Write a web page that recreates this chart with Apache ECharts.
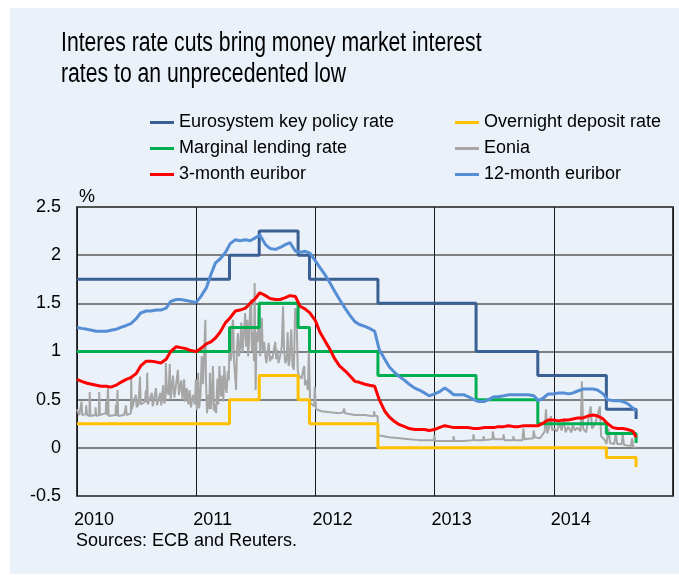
<!DOCTYPE html>
<html>
<head>
<meta charset="utf-8">
<script src="https://cdn.jsdelivr.net/npm/echarts@6/dist/echarts.min.js"></script>
<style>
  html, body { margin: 0; padding: 0; background: #fff; }
  #chart { width: 679px; height: 575px; }
</style>
</head>
<body>
<div id="chart"></div>
<script>
// policy rate change dates (value holds until next date)
var policyDates = ['2010-01-01', '2011-04-13', '2011-07-13', '2011-11-09', '2011-12-14',
  '2012-07-11', '2013-05-08', '2013-11-13', '2014-06-11', '2014-09-10'];
var keyRate      = [1.75, 2.00, 2.25, 2.00, 1.75, 1.50, 1.00, 0.75, 0.40, 0.30];
var marginalRate = [1.00, 1.25, 1.50, 1.25, 1.00, 0.75, 0.50, 0.25, 0.15, 0.05];
var depositRate  = [0.25, 0.50, 0.75, 0.50, 0.25, 0.00, 0.00, 0.00, -0.10, -0.20];

// euribor readings on the 1st and 15th of each month (last one 2014-09-10)
var euribor12m = [
  1.25, 1.24, 1.23, 1.22, 1.21, 1.21, 1.21, 1.22, 1.23, 1.25, 1.27, 1.29, 1.34, 1.40, 1.42, 1.42, 1.43, 1.43, 1.45, 1.52, 1.54, 1.54, 1.53, 1.52,
  1.51, 1.57, 1.66, 1.80, 1.92, 1.96, 2.03, 2.12, 2.16, 2.15, 2.16, 2.15, 2.18, 2.21, 2.11, 2.07, 2.06, 2.08, 2.11, 2.13, 2.04, 2.03, 2.04, 2.02,
  1.94, 1.87, 1.79, 1.71, 1.62, 1.54, 1.45, 1.38, 1.31, 1.28, 1.26, 1.24, 1.21, 1.02, 0.92, 0.84, 0.78, 0.74, 0.70, 0.66, 0.62, 0.60, 0.57, 0.54,
  0.56, 0.58, 0.62, 0.59, 0.55, 0.55, 0.55, 0.53, 0.50, 0.48, 0.48, 0.50, 0.53, 0.53, 0.54, 0.55, 0.55, 0.55, 0.55, 0.55, 0.54, 0.49, 0.52, 0.56,
  0.56, 0.57, 0.57, 0.56, 0.57, 0.59, 0.61, 0.61, 0.61, 0.60, 0.56, 0.50, 0.49, 0.49, 0.48, 0.46, 0.41, 0.38
];
var euribor3m = [
  0.71, 0.69, 0.67, 0.66, 0.65, 0.64, 0.64, 0.63, 0.65, 0.68, 0.71, 0.73, 0.77, 0.85, 0.90, 0.90, 0.89, 0.88, 0.92, 1.00, 1.05, 1.04, 1.03, 1.01,
  1.00, 1.03, 1.08, 1.10, 1.14, 1.20, 1.30, 1.35, 1.42, 1.43, 1.45, 1.50, 1.55, 1.61, 1.58, 1.55, 1.54, 1.54, 1.56, 1.58, 1.57, 1.47, 1.44, 1.40,
  1.32, 1.20, 1.10, 1.02, 0.92, 0.85, 0.80, 0.75, 0.69, 0.68, 0.66, 0.65, 0.64, 0.50, 0.38, 0.32, 0.27, 0.24, 0.22, 0.20, 0.19, 0.19, 0.19, 0.18,
  0.19, 0.21, 0.23, 0.22, 0.21, 0.21, 0.21, 0.21, 0.20, 0.20, 0.21, 0.21, 0.21, 0.22, 0.22, 0.23, 0.22, 0.22, 0.23, 0.23, 0.23, 0.23, 0.26, 0.29,
  0.29, 0.28, 0.29, 0.29, 0.30, 0.31, 0.31, 0.33, 0.34, 0.33, 0.30, 0.25, 0.21, 0.20, 0.20, 0.19, 0.17, 0.11
];

// eonia, daily-ish readings incl. the spikes
var eonia = [
  ['2010-01-01', 0.40], ['2010-01-08', 0.34], ['2010-01-14', 0.33], ['2010-01-15', 0.48], ['2010-01-17', 0.34],
  ['2010-01-28', 0.35], ['2010-01-29', 0.44], ['2010-02-01', 0.34],
  ['2010-02-04', 0.33], ['2010-02-08', 0.33], ['2010-02-09', 0.58], ['2010-02-11', 0.33], ['2010-02-26', 0.34], ['2010-02-27', 0.42], ['2010-03-01', 0.33],
  ['2010-03-06', 0.33], ['2010-03-09', 0.34], ['2010-03-10', 0.58], ['2010-03-12', 0.34], ['2010-03-30', 0.36], ['2010-03-31', 0.48],
  ['2010-04-02', 0.34], ['2010-04-05', 0.35], ['2010-04-06', 0.62], ['2010-04-08', 0.33], ['2010-04-29', 0.34], ['2010-04-30', 0.45],
  ['2010-05-02', 0.33], ['2010-05-04', 0.34], ['2010-05-05', 0.60], ['2010-05-07', 0.33], ['2010-05-25', 0.34], ['2010-05-31', 0.44],
  ['2010-06-02', 0.34], ['2010-06-08', 0.35], ['2010-06-15', 0.36], ['2010-06-16', 0.74], ['2010-06-18', 0.40], ['2010-06-30', 0.55],
  ['2010-07-03', 0.42], ['2010-07-08', 0.45], ['2010-07-12', 0.45], ['2010-07-13', 0.74], ['2010-07-15', 0.45], ['2010-07-28', 0.48], ['2010-07-31', 0.60],
  ['2010-08-02', 0.47], ['2010-08-04', 0.78], ['2010-08-06', 0.45], ['2010-08-18', 0.57], ['2010-08-21', 0.43], ['2010-08-25', 0.43], ['2010-08-31', 0.62],
  ['2010-09-03', 0.44], ['2010-09-08', 0.44], ['2010-09-13', 0.57], ['2010-09-16', 0.44], ['2010-09-22', 0.65], ['2010-09-25', 0.46], ['2010-09-29', 0.50], ['2010-09-30', 0.88],
  ['2010-10-03', 0.60], ['2010-10-08', 0.55], ['2010-10-12', 0.87], ['2010-10-15', 0.50], ['2010-10-22', 0.75], ['2010-10-26', 0.52], ['2010-10-30', 0.62],
  ['2010-11-06', 0.81], ['2010-11-09', 0.55], ['2010-11-16', 0.70], ['2010-11-20', 0.50], ['2010-11-24', 0.52], ['2010-11-25', 0.71], ['2010-11-28', 0.48],
  ['2010-12-03', 0.62], ['2010-12-08', 0.45], ['2010-12-12', 0.60], ['2010-12-16', 0.42], ['2010-12-22', 0.55], ['2010-12-28', 0.45], ['2010-12-31', 0.71],
  ['2011-01-03', 0.39], ['2011-01-07', 0.78], ['2011-01-10', 0.41], ['2011-01-14', 0.55], ['2011-01-18', 0.95], ['2011-01-22', 0.66],
  ['2011-01-26', 1.05], ['2011-01-29', 1.33], ['2011-01-31', 0.70],
  ['2011-02-03', 0.36], ['2011-02-07', 0.55], ['2011-02-10', 0.40], ['2011-02-12', 0.78], ['2011-02-16', 0.40], ['2011-02-19', 0.60],
  ['2011-02-21', 0.85], ['2011-02-25', 0.38],
  ['2011-03-01', 0.45], ['2011-03-03', 0.36], ['2011-03-07', 0.72], ['2011-03-10', 0.45], ['2011-03-13', 0.85], ['2011-03-18', 0.53],
  ['2011-03-22', 0.75], ['2011-03-25', 0.48], ['2011-03-28', 0.85],
  ['2011-04-01', 0.62], ['2011-04-04', 0.57], ['2011-04-08', 0.80], ['2011-04-11', 0.70], ['2011-04-13', 1.23], ['2011-04-16', 0.90],
  ['2011-04-19', 0.95], ['2011-04-21', 1.25], ['2011-04-24', 1.33], ['2011-04-27', 0.90],
  ['2011-05-03', 0.60], ['2011-05-06', 1.05], ['2011-05-09', 1.19], ['2011-05-12', 0.95], ['2011-05-16', 1.05], ['2011-05-19', 1.30],
  ['2011-05-23', 0.99], ['2011-05-27', 1.20], ['2011-05-31', 1.40],
  ['2011-06-03', 1.05], ['2011-06-07', 1.33], ['2011-06-09', 0.95], ['2011-06-12', 1.10], ['2011-06-15', 1.45], ['2011-06-18', 1.54],
  ['2011-06-21', 1.00], ['2011-06-24', 1.20], ['2011-06-27', 0.90], ['2011-06-29', 1.71],
  ['2011-07-02', 0.60], ['2011-07-05', 1.20], ['2011-07-08', 1.10], ['2011-07-11', 1.45], ['2011-07-13', 1.33], ['2011-07-16', 0.95],
  ['2011-07-18', 1.15], ['2011-07-21', 1.35], ['2011-07-24', 0.99], ['2011-07-28', 1.10],
  ['2011-08-01', 0.95], ['2011-08-04', 0.88], ['2011-08-08', 1.00], ['2011-08-11', 1.09], ['2011-08-15', 0.90], ['2011-08-19', 0.95],
  ['2011-08-22', 0.92], ['2011-08-26', 1.00], ['2011-08-31', 1.10],
  ['2011-09-03', 0.92], ['2011-09-06', 1.02], ['2011-09-10', 0.88], ['2011-09-15', 0.95], ['2011-09-20', 1.05], ['2011-09-24', 1.47], ['2011-09-27', 1.00],
  ['2011-10-01', 0.88], ['2011-10-05', 0.92], ['2011-10-08', 1.20], ['2011-10-11', 0.85], ['2011-10-14', 0.90], ['2011-10-19', 1.23],
  ['2011-10-23', 0.85], ['2011-10-27', 0.81], ['2011-10-31', 1.45],
  ['2011-11-04', 1.42], ['2011-11-08', 0.80], ['2011-11-11', 0.75], ['2011-11-14', 0.74], ['2011-11-20', 0.72], ['2011-11-24', 0.80],
  ['2011-11-28', 0.85], ['2011-11-30', 0.65],
  ['2011-12-05', 0.70], ['2011-12-09', 0.60], ['2011-12-12', 1.00], ['2011-12-16', 0.47], ['2011-12-22', 0.45], ['2011-12-28', 0.43], ['2011-12-30', 0.63],
  ['2012-01-03', 0.40], ['2012-01-20', 0.38], ['2012-02-15', 0.37], ['2012-03-15', 0.36], ['2012-03-27', 0.37],
  ['2012-03-29', 0.41], ['2012-04-01', 0.36], ['2012-05-01', 0.34], ['2012-06-01', 0.34], ['2012-06-20', 0.33],
  ['2012-06-28', 0.33], ['2012-06-29', 0.38], ['2012-07-02', 0.33], ['2012-07-10', 0.33], ['2012-07-11', 0.13],
  ['2012-08-15', 0.11], ['2012-09-15', 0.10], ['2012-10-15', 0.09], ['2012-11-15', 0.08], ['2012-12-15', 0.08],
  ['2012-12-30', 0.08], ['2012-12-31', 0.13],
  ['2013-01-03', 0.07], ['2013-02-10', 0.07], ['2013-02-27', 0.07], ['2013-02-28', 0.12], ['2013-03-03', 0.07],
  ['2013-04-01', 0.07], ['2013-04-29', 0.08], ['2013-04-30', 0.14], ['2013-05-03', 0.08], ['2013-05-30', 0.08],
  ['2013-05-31', 0.12], ['2013-06-03', 0.08], ['2013-06-27', 0.09], ['2013-06-28', 0.17], ['2013-07-02', 0.09],
  ['2013-07-30', 0.09], ['2013-07-31', 0.14], ['2013-08-03', 0.08], ['2013-08-29', 0.08], ['2013-08-30', 0.12],
  ['2013-09-03', 0.08], ['2013-09-27', 0.08], ['2013-09-30', 0.20], ['2013-10-03', 0.09], ['2013-10-30', 0.10],
  ['2013-10-31', 0.18], ['2013-11-04', 0.11], ['2013-11-20', 0.10], ['2013-11-28', 0.14], ['2013-12-04', 0.17],
  ['2013-12-08', 0.40], ['2013-12-12', 0.15], ['2013-12-18', 0.22], ['2013-12-23', 0.33], ['2013-12-27', 0.18],
  ['2014-01-03', 0.20], ['2014-01-10', 0.17], ['2014-01-18', 0.25], ['2014-01-25', 0.18], ['2014-01-31', 0.30],
  ['2014-02-06', 0.16], ['2014-02-14', 0.22], ['2014-02-24', 0.16], ['2014-02-28', 0.25], ['2014-03-06', 0.18],
  ['2014-03-14', 0.21], ['2014-03-24', 0.17], ['2014-03-28', 0.69], ['2014-04-01', 0.20], ['2014-04-10', 0.16],
  ['2014-04-24', 0.43], ['2014-04-28', 0.20], ['2014-05-08', 0.25], ['2014-05-22', 0.43], ['2014-05-26', 0.12],
  ['2014-06-06', 0.08], ['2014-06-11', 0.04], ['2014-06-18', 0.20], ['2014-06-22', 0.05], ['2014-07-05', 0.04],
  ['2014-07-10', 0.15], ['2014-07-14', 0.04], ['2014-07-28', 0.04], ['2014-07-31', 0.15], ['2014-08-04', 0.03],
  ['2014-08-25', 0.02], ['2014-08-29', 0.10], ['2014-09-01', 0.01], ['2014-09-09', 0.00]
];

var yearTicks = [2010, 2011, 2012, 2013, 2014, 2015];

// date string -> fractional year for the value x axis
function yearFrac(s) {
  var p = s.split('-').map(Number);
  var start = Date.UTC(p[0], 0, 1), end = Date.UTC(p[0] + 1, 0, 1);
  return p[0] + (Date.UTC(p[0], p[1] - 1, p[2]) - start) / (end - start);
}

// 1st and 15th of each month up to 2014-09-01, then last day 2014-09-10
var halfMonths = [];
for (var y = 2010; y <= 2014; y++) {
  for (var m = 1; m <= 12; m++) {
    var mm = (m < 10 ? '0' : '') + m;
    halfMonths.push(y + '-' + mm + '-01');
    if (y === 2014 && m === 9) break;
    halfMonths.push(y + '-' + mm + '-15');
  }
}
halfMonths.push('2014-09-10');

function zip(dates, vals) {
  return dates.map(function (d, i) { return [yearFrac(d), vals[i]]; });
}

var font = 'Liberation Sans, Arial, sans-serif';

function lineSeries(name, color, width, data, step) {
  return {
    name: name, type: 'line', data: data, step: step || false,
    symbol: 'none', color: color,
    lineStyle: { color: color, width: width },
    emphasis: { disabled: true }
  };
}

var legendText = { fontFamily: font, fontSize: 18, color: '#000', lineHeight: 25 };

var chart = echarts.init(document.getElementById('chart'));
chart.setOption({
  animation: false,
  backgroundColor: '#fff',
  graphic: [
    { type: 'rect', left: 10, top: 8, shape: { width: 669, height: 566 }, style: { fill: '#EAF1F9' }, z: -10 },
    { type: 'text', x: 61, y: 44, scaleX: 0.785, style: { text: 'Interes rate cuts bring money market interest', font: '27px ' + font, fill: '#000', verticalAlign: 'middle' } },
    { type: 'text', x: 61, y: 75, scaleX: 0.785, style: { text: 'rates to an unprecedented low', font: '27px ' + font, fill: '#000', verticalAlign: 'middle' } },
    { type: 'text', x: 79, y: 197, style: { text: '%', font: '18px ' + font, fill: '#000', verticalAlign: 'middle' } },
    { type: 'text', x: 76, y: 541, style: { text: 'Sources: ECB and Reuters.', font: '18px ' + font, fill: '#000', verticalAlign: 'middle' } }
  ],
  legend: [
    {
      orient: 'vertical', left: 150, top: 110, padding: 0, itemGap: 1,
      itemWidth: 24, itemHeight: 3, icon: 'rect', textStyle: legendText,
      data: ['Eurosystem key policy rate', 'Marginal lending rate', '3-month euribor']
    },
    {
      orient: 'vertical', left: 455, top: 110, padding: 0, itemGap: 1,
      itemWidth: 24, itemHeight: 3, icon: 'rect', textStyle: legendText,
      data: ['Overnight deposit rate', 'Eonia', '12-month euribor']
    }
  ],
  grid: {
    left: 77, right: 6, top: 207, bottom: 79,
    show: true, borderColor: '#000', borderWidth: 1.5, backgroundColor: 'transparent'
  },
  xAxis: {
    type: 'value', min: yearTicks[0], max: yearTicks[yearTicks.length - 1], interval: 1,
    axisLine: { show: false }, axisTick: { show: false },
    splitLine: { show: true, lineStyle: { color: '#1a1a1a', width: 1 } },
    axisLabel: {
      showMaxLabel: false, align: 'left', margin: 15, padding: [0, 0, 0, -3],
      fontFamily: font, fontSize: 18, color: '#000',
      formatter: function (v) { return String(Math.round(v)); }
    }
  },
  yAxis: {
    type: 'value', min: -0.5, max: 2.5, interval: 0.5,
    axisLine: { show: false }, axisTick: { show: false },
    splitLine: { show: true, lineStyle: { color: '#5a5a5a', width: 1.5 } },
    axisLabel: { margin: 16, fontFamily: font, fontSize: 18, color: '#000' }
  },
  series: [
    lineSeries('Eonia', '#A6A6A6', 2, eonia.map(function (p) { return [yearFrac(p[0]), p[1]]; })),
    lineSeries('Overnight deposit rate', '#FFC000', 3, zip(policyDates, depositRate), 'end'),
    lineSeries('Marginal lending rate', '#00B050', 3, zip(policyDates, marginalRate), 'end'),
    lineSeries('Eurosystem key policy rate', '#3A5F92', 3, zip(policyDates, keyRate), 'end'),
    lineSeries('12-month euribor', '#558ED5', 3, zip(halfMonths, euribor12m)),
    lineSeries('3-month euribor', '#FF0000', 3, zip(halfMonths, euribor3m))
  ]
});
</script>
</body>
</html>
